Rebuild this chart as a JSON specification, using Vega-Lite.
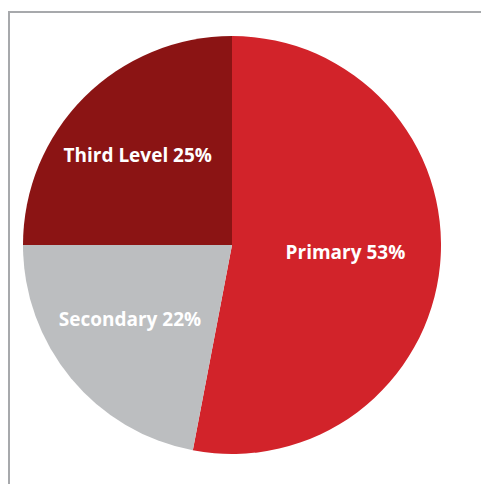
{
  "$schema": "https://vega.github.io/schema/vega-lite/v6.json",
  "width": 600,
  "height": 600,
  "autosize": "none",
  "padding": {"left": 9, "top": 12, "right": 0, "bottom": 0},
  "background": "white",
  "view": {"stroke": "#a7a9ac", "strokeWidth": 2},
  "data": {
    "values": [
      {"level": "Primary", "share": 53, "label": "Primary 53%", "rank": 1},
      {"level": "Secondary", "share": 22, "label": "Secondary 22%", "rank": 2},
      {"level": "Third Level", "share": 25, "label": "Third Level 25%", "rank": 3}
    ]
  },
  "encoding": {
    "theta": {"field": "share", "type": "quantitative", "stack": true},
    "order": {"field": "rank", "type": "quantitative"}
  },
  "layer": [
    {
      "mark": {"type": "arc", "outerRadius": 209, "x": 223, "y": 233},
      "encoding": {
        "color": {
          "field": "level",
          "type": "nominal",
          "scale": {"domain": ["Primary", "Secondary", "Third Level"], "range": ["#d2232a", "#bcbec0", "#8b1414"]},
          "legend": null
        }
      }
    },
    {
      "mark": {"type": "text", "radius": 122, "x": 223, "y": 233, "dx": -8, "dy": -3, "font": "Open Sans", "fontWeight": "bold", "fontSize": 19, "fill": "white"},
      "encoding": {"text": {"field": "label", "type": "nominal"}}
    }
  ]
}
